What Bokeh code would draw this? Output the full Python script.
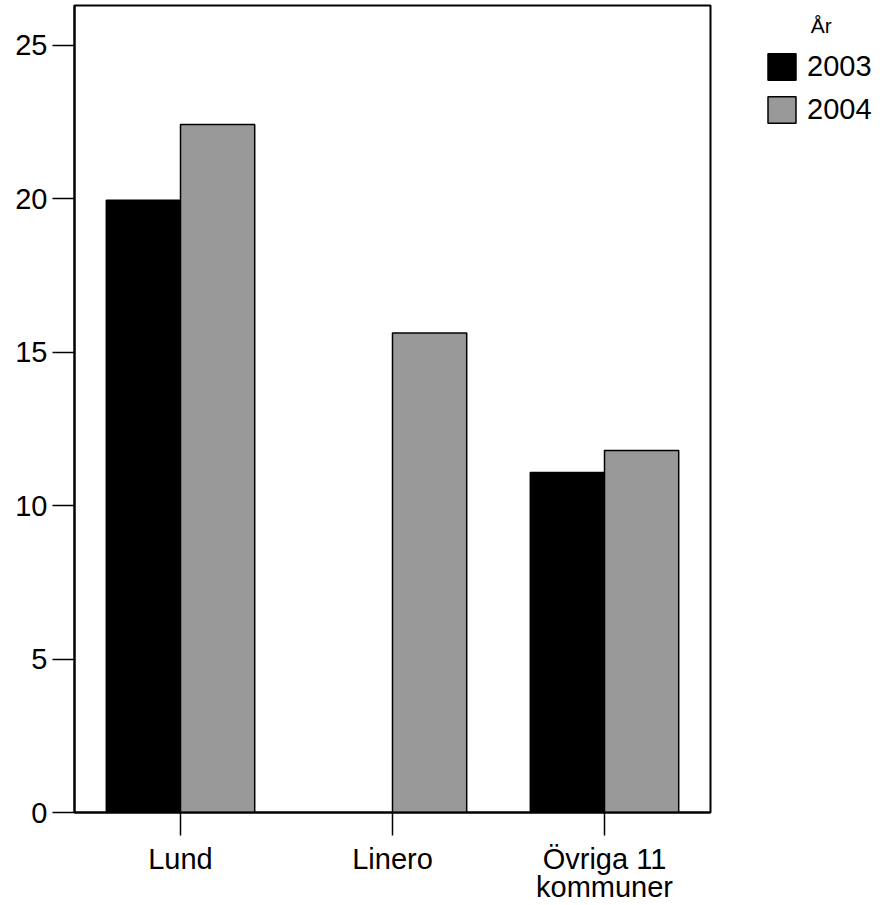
from bokeh.plotting import figure
from bokeh.models import ColumnDataSource, FactorRange, FixedTicker, Legend, LegendItem
from bokeh.transform import dodge
from bokeh.embed import file_html
from bokeh.resources import INLINE

categories = ["Lund", "Linero", "Övriga 11\nkommuner"]
years = ["2003", "2004"]
values_2003 = [19.95, None, 11.08]
values_2004 = [22.42, 15.63, 11.80]
y_ticks = [0, 5, 10, 15, 20, 25]
legend_title = "År"
colors = {"2003": "#000000", "2004": "#999999"}

FONT = "Liberation Sans"
FRAME_W, FRAME_H = 636, 807

p = figure(
    x_range=FactorRange(factors=categories, range_padding=0),
    y_range=(0, 26.3),
    width=880, height=905,
    frame_width=FRAME_W, frame_height=FRAME_H,
    output_backend="svg", toolbar_location=None,
    min_border_left=74, min_border_right=170,
    min_border_top=5, min_border_bottom=93,
)

renderers = []
for yr, vals, off in (("2003", values_2003, -0.175), ("2004", values_2004, 0.175)):
    xs = [c for c, v in zip(categories, vals) if v is not None]
    ts = [v for v in vals if v is not None]
    src = ColumnDataSource(dict(cat=xs, val=ts))
    r = p.vbar(x=dodge("cat", off, range=p.x_range), top="val", width=0.35,
               source=src, fill_color=colors[yr], line_color="black", line_width=1.5)
    renderers.append((yr, r))

p.xgrid.visible = False
p.ygrid.visible = False
p.outline_line_color = "black"
p.outline_line_width = 2
p.background_fill_color = "white"
p.border_fill_color = "white"

p.yaxis.ticker = FixedTicker(ticks=y_ticks, minor_ticks=[])
for ax in (p.xaxis[0], p.yaxis[0]):
    ax.axis_line_color = "black"
    ax.axis_line_width = 2
    ax.major_tick_line_color = "black"
    ax.major_tick_line_width = 1.5
    ax.major_tick_in = 0
    ax.minor_tick_line_color = None
    ax.major_label_text_font = FONT
    ax.major_label_text_font_size = "29px"
    ax.major_label_text_color = "black"
p.yaxis.major_tick_out = 22
p.yaxis.major_label_standoff = 5
p.xaxis.major_tick_out = 23
p.xaxis.major_label_standoff = 7
p.xaxis.major_label_text_line_height = 0.9

legend = Legend(
    items=[LegendItem(label=yr, renderers=[r]) for yr, r in renderers],
    location=(54, FRAME_H - 13 - 108),
    orientation="vertical",
    title="\u00a0" * 8 + legend_title,
    title_text_font=FONT, title_text_font_size="21px", title_text_font_style="normal",
    title_text_color="black", title_standoff=12,
    glyph_width=35, glyph_height=33,
    label_height=33, label_standoff=8, spacing=10,
    padding=0, margin=0,
    label_text_font=FONT, label_text_font_size="29px", label_text_color="black",
    background_fill_color=None, border_line_color=None,
)
p.add_layout(legend, "right")

open("out.html", "w").write(file_html(p, INLINE))
